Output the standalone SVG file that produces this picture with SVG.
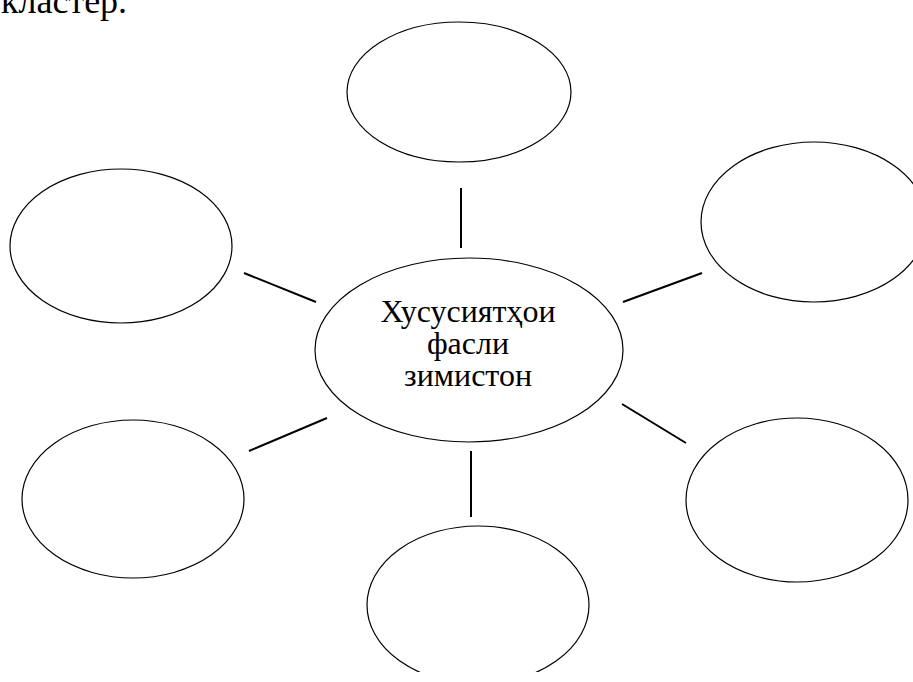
<svg xmlns="http://www.w3.org/2000/svg" width="913" height="682" viewBox="0 0 913 682">
<style>
.node ellipse{fill:#fff;stroke:#000;stroke-width:1.2}
.conn line{stroke:#000;stroke-width:2}
.t{font-family:"Liberation Serif","Times New Roman","DejaVu Serif",serif;font-size:32px;fill:#000}
</style>
<defs><clipPath id="page"><rect x="0" y="0" width="913" height="672"/></clipPath></defs>
<rect width="913" height="682" fill="#fff"/>
<text class="t" x="1" y="13" style="font-size:36px">кластер.</text>
<g clip-path="url(#page)">
<g class="conn">
<line x1="461" y1="188" x2="461" y2="248"/>
<line x1="244" y1="273" x2="316" y2="302"/>
<line x1="623" y1="302" x2="702" y2="273"/>
<line x1="249" y1="451" x2="327" y2="418"/>
<line x1="622" y1="404" x2="686" y2="443"/>
<line x1="471" y1="451" x2="471" y2="517"/>
</g>
<g id="top" class="node"><ellipse cx="459" cy="92" rx="112" ry="70"/></g>
<g id="topright" class="node"><ellipse cx="814" cy="222" rx="113" ry="80"/></g>
<g id="left" class="node"><ellipse cx="121" cy="246" rx="111" ry="77"/></g>
<g id="bottomleft" class="node"><ellipse cx="133" cy="499" rx="111" ry="79"/></g>
<g id="bottomright" class="node"><ellipse cx="797" cy="500" rx="111" ry="82"/></g>
<g id="bottom" class="node"><ellipse cx="478" cy="605" rx="111" ry="79"/></g>
<g id="center" class="node"><ellipse cx="469" cy="350" rx="154" ry="92"/>
<text class="t" x="468" y="322" text-anchor="middle">Хусусиятҳои</text>
<text class="t" x="468" y="354" text-anchor="middle">фасли</text>
<text class="t" x="468" y="386" text-anchor="middle">зимистон</text>
</g>
</g>
</svg>
